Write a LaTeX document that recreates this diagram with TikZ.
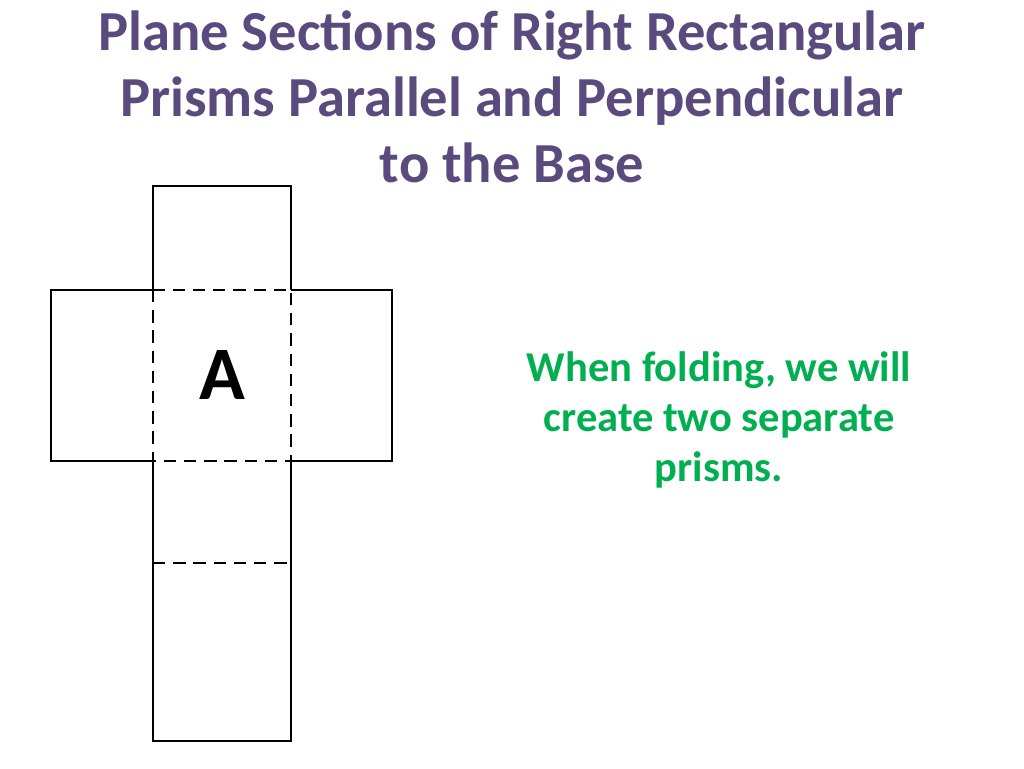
\documentclass[tikz,border=0pt]{standalone}
\usepackage{fontspec}
\setmainfont{Carlito}
\definecolor{ttl}{HTML}{5A4A7E}
\definecolor{grn}{HTML}{00B050}
\begin{document}
\begin{tikzpicture}[x=0.02cm,y=-0.02cm,
  solidln/.style={line width=1.6pt},
  dashln/.style={line width=1.6pt,dash pattern=on 7pt off 4.5pt}]
\useasboundingbox (0,0) rectangle (1024,768);
\node[text=ttl,font=\bfseries\fontsize{32.2}{37.5}\selectfont,align=center] (title) at (512,97)
 {Plane Sections of Right Rectangular\\Prisms Parallel and Perpendicular\\to the Base};
\draw[solidln] (153,290) -- (153,186) -- (291,186) -- (291,290);
\draw[solidln] (153,290) -- (51,290) -- (51,461) -- (153,461);
\draw[solidln] (291,290) -- (392,290) -- (392,461) -- (291,461);
\draw[solidln] (153,461) -- (153,741) -- (291,741) -- (291,461);
\draw[dashln] (153,290) rectangle (291,461);
\draw[dashln] (153,563) -- (291,563);
\node[font=\bfseries\fontsize{43}{50}\selectfont] (a) at (222,375) {A};
\node[text=grn,font=\bfseries\fontsize{24.2}{28.3}\selectfont,align=center] (note) at (719,420)
 {When folding, we will\\create two separate\\prisms.};
\end{tikzpicture}
\end{document}
